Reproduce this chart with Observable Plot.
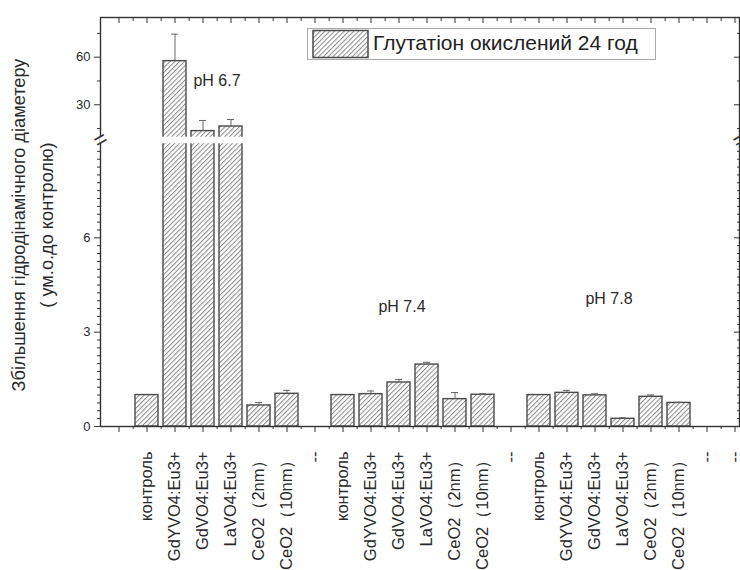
<!DOCTYPE html>
<html><head><meta charset="utf-8">
<script src="https://cdn.jsdelivr.net/npm/d3@7"></script>
<script src="https://cdn.jsdelivr.net/npm/@observablehq/plot@0.6"></script>
<style>
body{margin:0;background:#fff;font-family:"Liberation Sans",Arial,sans-serif;}
#wrap{position:relative;width:740px;height:570px;}
#legend{position:absolute;left:307px;top:28px;width:347px;height:30px;border:1px solid #aaa;background:#fff;}
#legend svg{position:absolute;left:4px;top:0px;}
#legend span{position:absolute;left:65px;top:2px;font-size:21px;color:#222;white-space:nowrap;}
</style>
</head><body>
<div id="wrap"></div>
<script>
// ---- data ----
const groups = ["pH 6.7", "pH 7.4", "pH 7.8"];
const samples = ["контроль", "GdYVO4:Eu3+", "GdVO4:Eu3+", "LaVO4:Eu3+", "CeO2（2nm）", "CeO2（10nm）"];
const values67 = [1.0, 57.5, 13.4, 16.3, 0.67, 1.04];
const errors67 = [0, 17, 6.7, 4.4, 0.09, 0.11];
const values74 = [1.0, 1.03, 1.40, 1.97, 0.87, 1.01];
const errors74 = [0, 0.10, 0.10, 0.07, 0.21, 0.03];
const values78 = [1.0, 1.07, 0.99, 0.245, 0.945, 0.75];
const errors78 = [0, 0.08, 0.05, 0.03, 0.06, 0.02];
const separatorLabel = "--";
const legendLabel = "Глутатіон окислений 24 год";
const yTitle1 = "Збільшення гідродінамічного діаметеру";
const yTitle2 = "( ум.о.до контролю)";
const yMajorTicks = [0, 3, 6, 30, 60];
const yMinorUpper = [15, 45, 75];
const yBreak = [9, 10];
const yTop = 85;

// ---- build table ----
const allValues = [values67, values74, values78];
const allErrors = [errors67, errors74, errors78];
const xKeys = ["start"];
const xLabel = {start: ""};
const data = [];
groups.forEach((g, gi) => {
  samples.forEach((s, si) => {
    const key = gi + ":" + si;
    xKeys.push(key);
    xLabel[key] = s;
    data.push({key, group: g, sample: s, value: allValues[gi][si], err: allErrors[gi][si]});
  });
  xKeys.push("sep" + gi);
  xLabel["sep" + gi] = separatorLabel;
});
xKeys.push("end");
xLabel["end"] = separatorLabel;

const errData = data.filter(d => d.err > 0);
const yMinorLower = d3.range(0.25, yBreak[0], 0.25).filter(v => v % 3 !== 0);
const yMinor = yMinorLower.concat(yMinorUpper);
const breakMid = [(yBreak[0] + yBreak[1]) / 2];

const notes = [
  {key: "0:2", y: 45, label: groups[0]},
  {key: "1:2", y: 3.8, label: groups[1]},
  {key: "2:2", y: 4.05, label: groups[2]}
];

const W = 740, H = 570;
const step = 28.32;
const ink = "#2a2a2a";

const chart = Plot.plot({
  width: W, height: H,
  marginLeft: 100, marginRight: 1, marginTop: 17, marginBottom: 144,
  style: {fontFamily: "'Liberation Sans', Arial, sans-serif", color: ink, background: "#fff"},
  x: {type: "band", domain: xKeys, range: [100.8, 100.8 + step * xKeys.length], paddingInner: 0.19, paddingOuter: 0.095, label: null, axis: null},
  y: {type: "linear", domain: [0, yBreak[0], yBreak[1], yTop], range: [426, 143, 136, 17], label: null, axis: null},
  marks: [
    Plot.barY(data, {x: "key", y: "value", fill: "url(#hatch)", stroke: "#4a4a4a", strokeWidth: 1.4}),
    Plot.ruleX(errData, {x: "key", y1: "value", y2: d => d.value + d.err, stroke: "#666", strokeWidth: 1}),
    Plot.tickY(errData, {x: "key", y: d => d.value + d.err, stroke: "#666", strokeWidth: 1, insetLeft: 8, insetRight: 8}),
    Plot.frame({stroke: "#333", strokeWidth: 1.4}),
    Plot.axisY({anchor: "left", ticks: yMajorTicks, tickSize: 6, tickPadding: 4, fontSize: 13, label: null, stroke: "#333"}),
    Plot.axisY({anchor: "left", ticks: yMinor, tickSize: 3, tickFormat: () => "", label: null, stroke: "#333"}),
    Plot.axisY({anchor: "right", ticks: yMajorTicks, tickSize: 6, dx: -6, tickFormat: () => "", label: null, stroke: "#333"}),
    Plot.axisY({anchor: "right", ticks: yMinor, tickSize: 3, dx: -3, tickFormat: () => "", label: null, stroke: "#333"}),
    Plot.axisX({anchor: "bottom", tickSize: 6, tickPadding: 19, tickRotate: -90, fontSize: 16.5, tickFormat: k => xLabel[k], label: null, stroke: "#333"}),
    Plot.axisX({anchor: "bottom", tickSize: 3, dx: step / 2, tickFormat: () => "", label: null, stroke: "#333"}),
    Plot.axisX({anchor: "top", tickSize: 5, dy: 5, tickFormat: () => "", label: null, stroke: "#333"}),
    Plot.axisX({anchor: "top", tickSize: 3, dy: 3, dx: step / 2, tickFormat: () => "", label: null, stroke: "#333"}),
    Plot.ruleY(breakMid, {y: d => d, stroke: "#fff", strokeWidth: 6.5}),
    Plot.text(breakMid, {y: d => d, text: () => "=", frameAnchor: "left", textAnchor: "middle", rotate: -30, fontSize: 22, fill: "#333"}),
    Plot.text(breakMid, {y: d => d, text: () => "=", frameAnchor: "right", textAnchor: "middle", rotate: -30, fontSize: 22, fill: "#333"}),
    Plot.text([notes[0]], {x: "key", y: "y", text: "label", fontSize: 16, dx: 14, fill: ink}),
    Plot.text([notes[1]], {x: "key", y: "y", text: "label", fontSize: 16, dx: 3, fill: ink}),
    Plot.text([notes[2]], {x: "key", y: "y", text: "label", fontSize: 16, dx: 14, fill: ink}),
    Plot.text([yTitle1], {text: d => d, frameAnchor: "left", textAnchor: "middle", rotate: -90, dx: -81, dy: 3, fontSize: 18.2, fill: ink}),
    Plot.text([yTitle2], {text: d => d, frameAnchor: "left", textAnchor: "middle", rotate: -90, dx: -53, dy: 3, fontSize: 18.2, fill: ink})
  ]
});

d3.select(chart).insert("defs", ":first-child").html(
  '<pattern id="hatch" width="3.4" height="3.4" patternUnits="userSpaceOnUse" patternTransform="rotate(45)">' +
  '<rect width="3.4" height="3.4" fill="#fff"/>' +
  '<line x1="0.5" y1="0" x2="0.5" y2="3.4" stroke="#8a8a8a" stroke-width="1"/></pattern>'
);

const wrap = document.getElementById("wrap");
wrap.appendChild(chart);

const legend = document.createElement("div");
legend.id = "legend";
legend.innerHTML = '<svg width="58" height="30"><rect x="1" y="1.5" width="55" height="27" fill="url(#hatch)" stroke="#4a4a4a" stroke-width="1.5"/></svg><span></span>';
legend.querySelector("span").textContent = legendLabel;
wrap.appendChild(legend);
</script>
</body></html>
